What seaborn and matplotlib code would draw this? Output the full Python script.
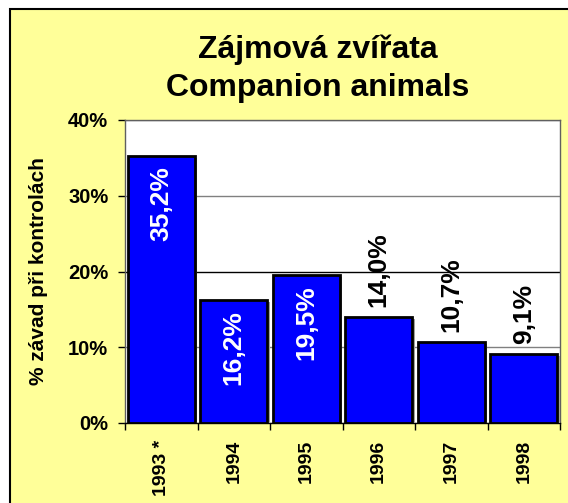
import matplotlib
matplotlib.use("Agg")
import matplotlib.pyplot as plt
import matplotlib.patheffects as pe
from matplotlib.patches import Rectangle
from matplotlib.ticker import FixedLocator, FuncFormatter
import seaborn as sns

# data
roky = ['1993 *', '1994', '1995', '1996', '1997', '1998']
zavady = [35.2, 16.2, 19.5, 14.0, 10.7, 9.1]
popisky = ['35,2%', '16,2%', '19,5%', '14,0%', '10,7%', '9,1%']
uvnitr = [True, True, True, False, False, False]

sns.set_style('white')
plt.rcParams['font.family'] = ['Liberation Sans', 'DejaVu Sans']
plt.rcParams['font.weight'] = 'bold'
plt.rcParams['text.color'] = 'black'
plt.rcParams['axes.labelcolor'] = 'black'
plt.rcParams['xtick.color'] = 'black'
plt.rcParams['ytick.color'] = 'black'

fig = plt.figure(figsize=(5.68, 5.03), dpi=100, facecolor='white')

# yellow chart area with black frame (cut off at right and bottom)
ramec = Rectangle((10 / 568, -0.2), 1.2, 1.2 - 9 / 503, transform=fig.transFigure,
                  facecolor='#FFFF99', edgecolor='black', linewidth=1.5, zorder=-5)
fig.patches.append(ramec)

ax = fig.add_axes([125 / 568, 1 - 423 / 503, 435 / 568, 303 / 503])
ax.set_zorder(2)
ax.set_facecolor('white')

sns.barplot(x=roky, y=zavady, color='#0000FF', saturation=1, edgecolor='black',
            linewidth=2, width=0.92, ax=ax, zorder=3)

# gray drop shadow like in Excel
for p in ax.patches:
    p.set_path_effects([pe.SimplePatchShadow(offset=(2, -1.5), shadow_rgbFace='#A0A0A0', alpha=1),
                        pe.Normal()])

# value labels
for p, txt, ins in zip(ax.patches, popisky, uvnitr):
    x = p.get_x() + p.get_width() / 2
    y = p.get_height()
    if ins:
        ax.annotate(txt, (x, y), xytext=(0, -7), textcoords='offset points', ha='center', va='top',
                    rotation=90, color='white', fontsize=19, fontweight='bold', zorder=5)
    else:
        ax.annotate(txt, (x, y), xytext=(0, 7), textcoords='offset points', ha='center', va='bottom',
                    rotation=90, color='black', fontsize=19, fontweight='bold', zorder=5)

ax.set_ylim(0, 40)
ax.set_xlim(-0.5, len(roky) - 0.5)
ax.set_yticks([0, 10, 20, 30, 40])
ax.yaxis.set_major_formatter(FuncFormatter(lambda v, pos: f'{v:.0f}%'))

# horizontal grid
ax.yaxis.grid(True, color='#808080', linewidth=1)
ax.set_axisbelow(True)
ax.yaxis.get_gridlines()[2].set_color('black')

ax.tick_params(axis='y', which='major', direction='out', length=5, width=1, color='black',
               left=True, pad=7, labelsize=14.5)
ax.tick_params(axis='x', which='major', length=0, pad=12, labelsize=14)
ax.xaxis.set_minor_locator(FixedLocator([i - 0.5 for i in range(len(roky) + 1)]))
ax.tick_params(axis='x', which='minor', direction='out', length=5, width=1, color='black', bottom=True)
plt.setp(ax.get_xticklabels(), rotation=90, fontweight='bold')
plt.setp(ax.get_yticklabels(), fontweight='bold')

for s in ['top', 'right', 'left']:
    ax.spines[s].set_color('#606060')
    ax.spines[s].set_linewidth(1)
ax.spines['bottom'].set_color('black')
ax.spines['bottom'].set_linewidth(1)

ax.set_xlabel('')
ax.set_ylabel('% závad při kontrolách', fontsize=15, fontweight='bold')
ax.yaxis.set_label_coords(-0.178, 0.5)

fig.text(318 / 568, 1 - 50 / 503, 'Zájmová zvířata', ha='center', va='center',
         fontsize=23, fontweight='bold')
fig.text(318 / 568, 1 - 88 / 503, 'Companion animals', ha='center', va='center',
         fontsize=23, fontweight='bold')

fig.savefig('out.png', dpi=100, facecolor=fig.get_facecolor())
